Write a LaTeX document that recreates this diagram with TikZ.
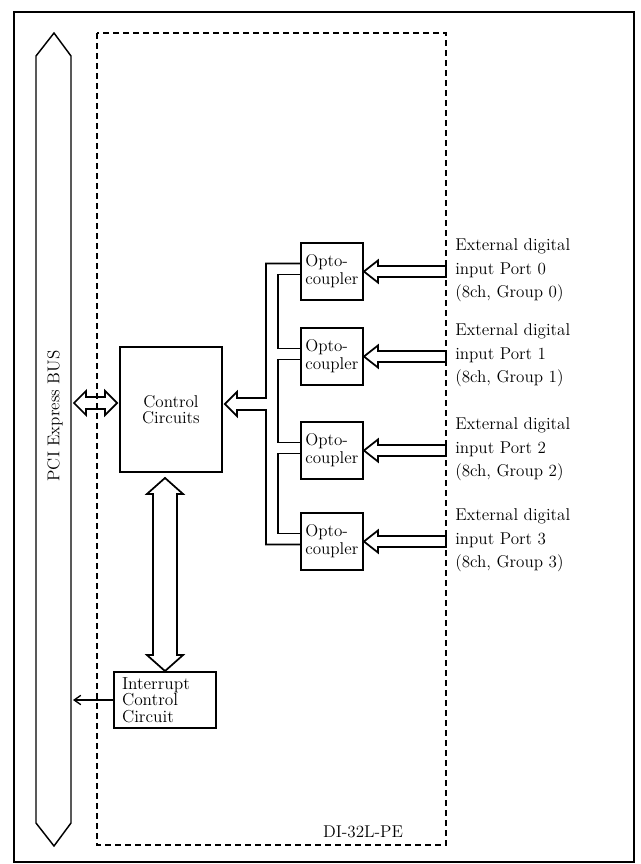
\documentclass[tikz,border=0pt]{standalone}
\usetikzlibrary{arrows.meta, calc, positioning}

\tikzset{
  block/.style={draw, line width=1.4pt, align=center, inner sep=0pt},
  optobox/.style={draw, line width=1.4pt, align=left, text width=40pt, inner xsep=3.25pt, inner ysep=0pt, minimum height=42.75pt, font=\fontsize{12.8}{13.5}\selectfont},
  intrbox/.style={draw, line width=1.4pt, align=left, text width=64.5pt, inner xsep=6pt, inner ysep=0pt, minimum height=42pt, font=\fontsize{13}{12.4}\selectfont},
  hollow/.style={line width=1.3pt, line join=miter},
  portlabel/.style={anchor=west, align=left, inner sep=0pt, font=\fontsize{12.8}{17.6}\selectfont},
}

\begin{document}
\begin{tikzpicture}[x=0.75pt, y=-0.75pt, every node/.style={font=\fontsize{12.8}{11.5}\selectfont}]
\useasboundingbox (0,0) rectangle (640,864);

% Frame
\draw[line width=1.5pt] (14,12) rectangle (634,862);

% PCI Express bus
\coordinate (busr) at (71,0);
\draw[line width=1.1pt, line join=miter] (36,56) -- (54,33) -- (71,56) -- (71,823) -- (54,846) -- (36,823) -- cycle;
\node[rotate=90] (buslabel) at (55,416) {PCI Express BUS};

% Board outline
\coordinate (devnw) at (97,33);
\coordinate (devse) at (446,845);
\draw[line width=1.3pt, dash pattern=on 4.5pt off 3pt] (devnw) rectangle (devse);
\node (devlabel) at (363,832) {DI-32L-PE};

% Blocks
\node[block, minimum width=76.5pt, minimum height=93.75pt] (ctrl) at (171,409.5) {Control\\Circuits};
\node[intrbox] (intr) at (165,700) {Interrupt\\Control\\Circuit};
\foreach \i/\y in {0/271.5, 1/356.5, 2/450.5, 3/541.5}
  \node[optobox] (opto\i) at (332,\y) {Opto-\\coupler};

% External inputs
\foreach \i in {0,...,3} {
  \node[portlabel] (port\i) at ($(devse |- opto\i.east)+(9,-1)$) {External digital\\input Port \i\\(8ch, Group \i)};
  \draw[hollow] (opto\i.east) -- ++(14,-11) -- ++(0,5.5) -| ($(devse |- opto\i.east)+(0,5.5)$)
    -- ($(opto\i.east)+(14,5.5)$) -- ++(0,5.5) -- cycle;
}

% Bus <-> control circuits
\coordinate (bl) at ($(busr |- ctrl.west)+(3,-6.5)$);
\coordinate (br) at ($(ctrl.west)+(-2,-6.5)$);
\draw[hollow] (bl) -- ++(12,-12) -- ++(0,6) -- ($(br)+(-12,-6)$) -- ++(0,-6) -- (br)
  -- ++(-12,12) -- ++(0,-6) -- ($(bl)+(12,6)$) -- ++(0,6) -- cycle;

% Control circuits <-> interrupt
\coordinate (vt) at ($(intr.north |- ctrl.south)+(0,5)$);
\draw[hollow] (vt) -- ++(18,16) -- ++(-6,0) -- ($(intr.north)+(12,-16)$) -- ++(6,0) -- (intr.north)
  -- ++(-18,-16) -- ++(6,0) -- ($(vt)+(-12,16)$) -- ++(-6,0) -- cycle;

% Optocouplers -> control circuits
\coordinate (bo) at ($(opto0.west)+(-34,0)$);
\coordinate (bi) at ($(opto0.west)+(-22,0)$);
\draw[hollow] ($(opto0.west)+(0,-8)$) -| ($(bo |- ctrl.east)+(0,-11.5)$) -- ($(ctrl.east)+(14,-11.5)$)
  -- ++(0,-6) -- ($(ctrl.east)+(2,-5.5)$) -- ++(12,12) -- ++(0,-6)
  -- ($(bo |- ctrl.east)+(0,0.5)$) |- ($(opto3.west)+(0,3)$);
\foreach \a/\b in {0/1, 1/2, 2/3}
  \draw[hollow] ($(opto\a.west)+(0,3)$) -| ($(bi |- opto\b.west)+(0,-8)$) -- ($(opto\b.west)+(0,-8)$);

% Interrupt request
\draw[-{Straight Barb[length=5pt, width=7pt]}, line width=1pt] (intr.west) -- ($(busr |- intr.west)+(2,0)$);

\end{tikzpicture}
\end{document}
